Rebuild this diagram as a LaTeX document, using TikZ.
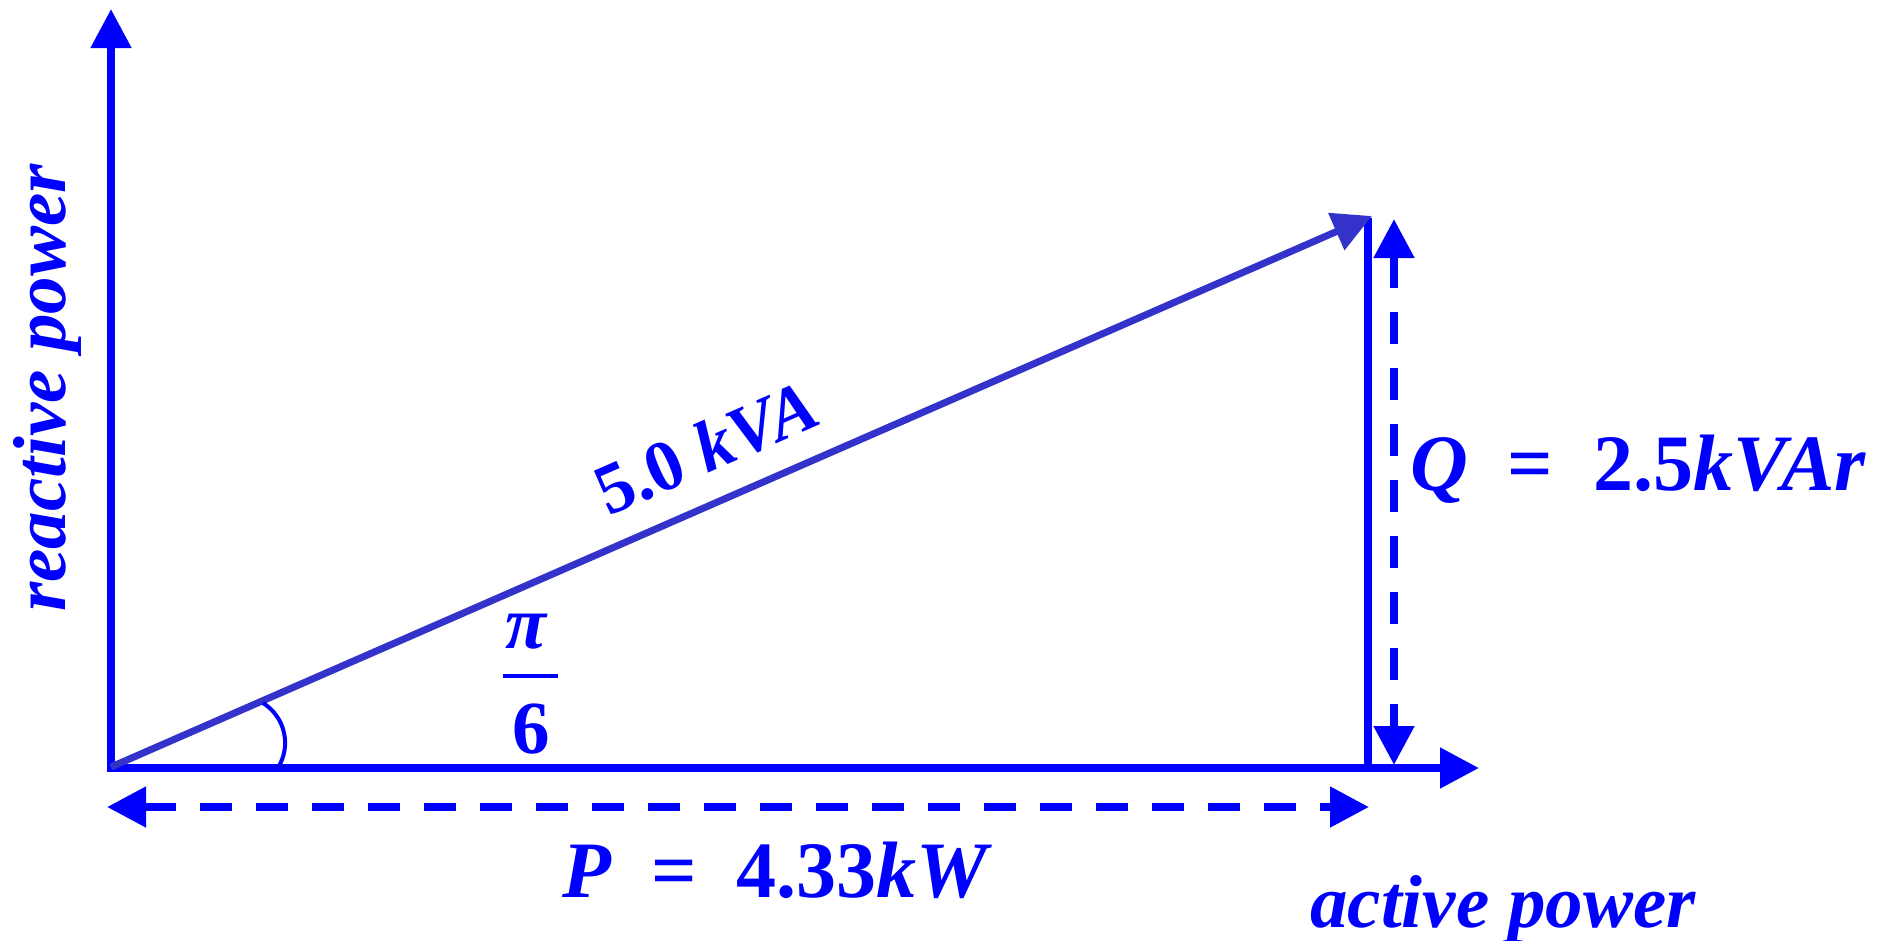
\documentclass[tikz,border=0pt]{standalone}
\usepackage{fontspec}
\setmainfont{Liberation Serif}
\usetikzlibrary{arrows.meta}
\definecolor{axblue}{RGB}{0,0,255}
\definecolor{hypblue}{RGB}{51,51,204}
\begin{document}
\begin{tikzpicture}[x=1pt,y=-1pt,
  tip/.style={-{Triangle[length=39pt,width=39pt]}},
  dtip/.style={{Triangle[length=39pt,width=39pt]}-{Triangle[length=39pt,width=39pt]}},
  axis/.style={draw=axblue, line width=8pt, tip},
  hyp/.style={draw=hypblue, line width=7pt, tip},
  solidline/.style={draw=axblue, line width=8pt},
  dimline/.style={draw=axblue, line width=8pt, dtip, dash pattern=on 32pt off 24pt},
  lab/.style={text=axblue, inner sep=0pt, font=\fontsize{75}{90}\selectfont\bfseries\itshape},
  biglab/.style={text=axblue, inner sep=0pt, font=\fontsize{80}{96}\selectfont\bfseries\itshape},
  anglearc/.style={draw=axblue, line width=4pt}
]
\useasboundingbox (0,0) rectangle (1887,940);
% coordinates
\coordinate (O) at (111,767);
\coordinate (Ybot) at (111,771);
\coordinate (Ytip) at (111,9);
\coordinate (Xbot) at (107,768);
\coordinate (Xtip) at (1479,768);
\coordinate (Htip) at (1372,216);
\coordinate (Vtop) at (1368,218);
\coordinate (Vbot) at (1368,768);
\coordinate (Qtop) at (1394,219);
\coordinate (Qbot) at (1394,765);
\coordinate (Pl) at (107,807);
\coordinate (Pr) at (1369,807);
\coordinate (A1) at (263,703);
% axes
\draw[axis] (Ybot) -- (Ytip);
\draw[axis] (Xbot) -- (Xtip);
% right vertical
\draw[solidline] (Vbot) -- (Vtop);
% hypotenuse
\draw[hyp] (O) -- (Htip);
% dimension arrows
\draw[dimline] (Qtop) -- (Qbot);
\draw[dimline] (Pl) -- (Pr);
% angle arc
\draw[anglearc] (A1) arc[start angle=-58, end angle=32, radius=47];
% fraction pi/6
\node[lab, anchor=base] (pi) at (526,648) {π};
\node[lab, anchor=base, font=\fontsize{75}{90}\selectfont\bfseries] (six) at (531,753) {6};
\coordinate (barL) at (503,676);
\coordinate (barR) at (558,676);
\draw[draw=axblue, line width=3.5pt] (barL) -- (barR);
% labels
\node[lab, anchor=base, rotate=90] (ylab) at (65,388) {reactive power};
\node[lab, anchor=base west] (xlab) at (1310,927) {active power};
\node[lab, anchor=base, rotate=23.6, font=\fontsize{72}{86}\selectfont\bfseries\itshape] (slab) at (716,470) {\upshape 5.0 \itshape kVA};
\node[biglab, anchor=base west] (qlab) at (1410,490) {Q\hspace{0.5em}\upshape =\hspace{0.5em}2.5\itshape kVAr};
\node[biglab, anchor=base west] (plab) at (562,897) {P\hspace{0.5em}\upshape =\hspace{0.5em}4.33\itshape kW};
\end{tikzpicture}
\end{document}
